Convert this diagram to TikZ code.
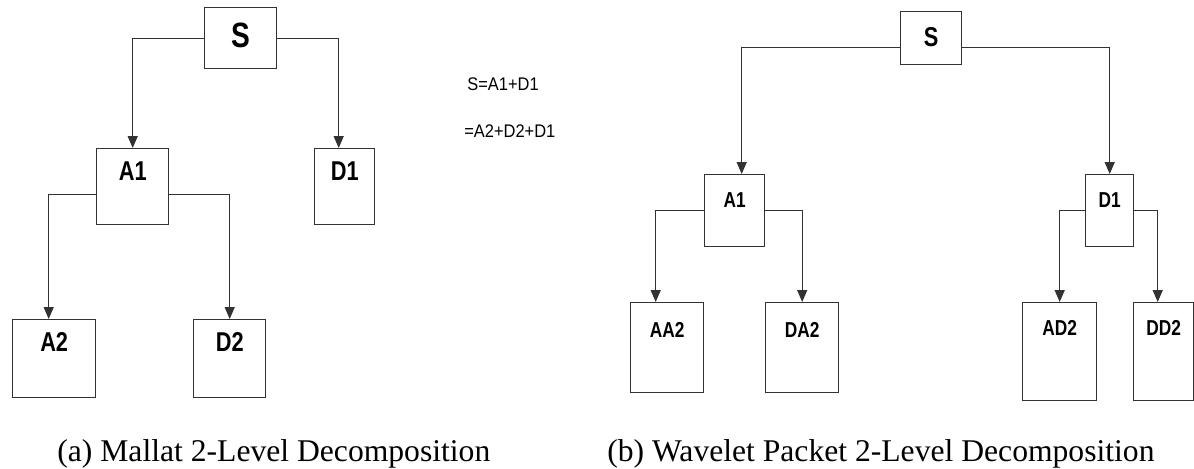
\documentclass[tikz,border=0pt]{standalone}
\usepackage{fontspec}
\setmainfont{Liberation Serif}
\newfontfamily\lblfont[FakeStretch=0.8]{Liberation Sans}
\newfontfamily\eqfont[FakeStretch=0.9]{Liberation Sans}
\usepackage{tikz}
\usetikzlibrary{arrows.meta}
\definecolor{linegray}{RGB}{50,50,50}
\tikzset{
    blk/.style={
        draw=linegray,
        line width=0.8pt,
        inner sep=0pt,
        anchor=north west,
        font=\lblfont\bfseries
    },
    mbox/.style={
        blk,
        text height=0.64cm,
        font=\lblfont\bfseries\fontsize{15.5pt}{17pt}\selectfont
    },
    pbox/.style={
        blk,
        font=\lblfont\bfseries\fontsize{12.3pt}{14pt}\selectfont
    },
    arr/.style={-{Triangle[length=0.24cm,width=0.2cm]},line width=0.8pt,linegray},
    eqn/.style={anchor=west,inner sep=0pt,font=\eqfont\fontsize{10.4pt}{12pt}\selectfont},
    captxt/.style={anchor=base west,inner sep=0pt,font=\fontsize{18pt}{21pt}\selectfont}
}
\begin{document}
\begin{tikzpicture}[x=0.02cm,y=-0.02cm]
\useasboundingbox (0,0) rectangle (1194,468);

% (a) Mallat
\node[blk,minimum width=1.44cm,text height=0.8cm,text depth=0.42cm,
      font=\lblfont\bfseries\fontsize{20pt}{22pt}\selectfont] (mS) at (204,7) {S};
\node[mbox,minimum width=1.44cm,text depth=0.88cm] (mA1) at (96,148) {A1};
\node[mbox,minimum width=1.2cm,text depth=0.88cm] (mD1) at (314,148) {D1};
\node[mbox,minimum width=1.66cm,text depth=0.92cm] (mA2) at (12,319) {A2};
\node[mbox,minimum width=1.44cm,text depth=0.92cm] (mD2) at (193,319) {D2};

\draw[arr] (mS.west) -| (mA1.north);
\draw[arr] (mS.east) -| ([xshift=-0.12cm]mD1.north);
\draw[arr] ([yshift=-0.16cm]mA1.west) -| ([xshift=-0.11cm]mA2.north);
\draw[arr] ([yshift=-0.16cm]mA1.east) -| (mD2.north);

\node[eqn] (eq1) at (467,84) {S=A1+D1};
\node[eqn] (eq2) at (464,131) {=A2+D2+D1};

% (b) wavelet packet
\node[pbox,minimum width=1.22cm,text height=0.7cm,text depth=0.36cm,
      font=\lblfont\bfseries\fontsize{15.5pt}{17pt}\selectfont] (pS) at (900,11) {S};
\node[pbox,minimum width=1.2cm,text height=0.66cm,text depth=0.78cm] (pA1) at (704,174) {A1};
\node[pbox,minimum width=0.96cm,text height=0.66cm,text depth=0.78cm] (pD1) at (1085,174) {D1};
\node[pbox,minimum width=1.46cm,text height=0.7cm,text depth=1.1cm] (pAA2) at (630,302) {AA2};
\node[pbox,minimum width=1.46cm,text height=0.7cm,text depth=1.1cm] (pDA2) at (765,302) {DA2};
\node[pbox,minimum width=1.48cm,text height=0.65cm,text depth=1.31cm] (pAD2) at (1022,302) {AD2};
\node[pbox,minimum width=1.2cm,text height=0.65cm,text depth=1.31cm] (pDD2) at (1133,302) {DD2};

\draw[arr] ([yshift=-0.19cm]pS.west) -| ([xshift=0.14cm]pA1.north);
\draw[arr] ([yshift=-0.19cm]pS.east) -| (pD1.north);
\draw[arr] (pA1.west) -| ([xshift=-0.23cm]pAA2.north);
\draw[arr] (pA1.east) -| (pDA2.north);
\draw[arr] (pD1.west) -| (pAD2.north);
\draw[arr] (pD1.east) -| ([xshift=-0.12cm]pDD2.north);

\node[captxt] (capa) at (57,461) {(a) Mallat 2-Level Decomposition};
\node[captxt] (capb) at (607,461) {(b) Wavelet Packet 2-Level Decomposition};
\end{tikzpicture}
\end{document}
